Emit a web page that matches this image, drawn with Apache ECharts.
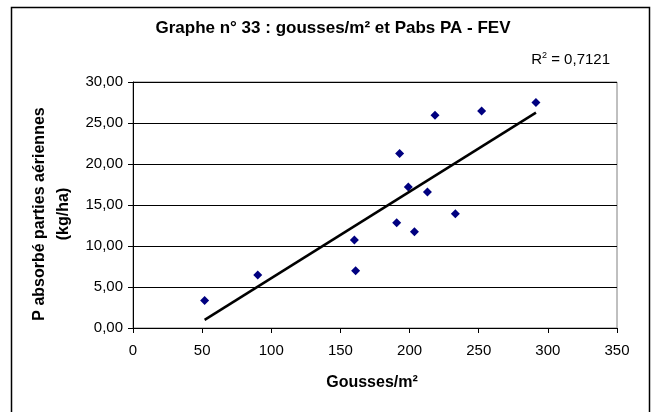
<!DOCTYPE html>
<html><head><meta charset="utf-8">
<script src="https://cdn.jsdelivr.net/npm/echarts@6/dist/echarts.min.js"></script>
<style>html,body{margin:0;padding:0;background:#fff}#c{width:659px;height:412px}</style>
</head><body><div id="c"></div>
<script>
var titleText = "Graphe n° 33 : gousses/m² et Pabs PA - FEV";
var xTitle = "Gousses/m²";
var yTitle = "P absorbé parties aériennes\n(kg/ha)";
var r2Label = "0,7121";
var gousses = [51.8, 90.2, 160.1, 161.0, 190.7, 192.8, 199.1, 203.5, 212.9, 218.4, 233.1, 252.1, 291.4];
var pabs    = [3.36, 6.45, 10.74, 6.97, 12.85, 21.29, 17.19, 11.75, 16.58, 25.95, 13.94, 26.47, 27.5];

// least-squares trend line (as in the source spreadsheet)
var n = gousses.length, sx = 0, sy = 0, sxx = 0, sxy = 0;
for (var i = 0; i < n; i++) { sx += gousses[i]; sy += pabs[i]; sxx += gousses[i]*gousses[i]; sxy += gousses[i]*pabs[i]; }
var slope = (n*sxy - sx*sy) / (n*sxx - sx*sx);
var icpt = (sy - slope*sx) / n;
var xmin = Math.min.apply(null, gousses), xmax = Math.max.apply(null, gousses);
var trend = [[xmin, icpt + slope*xmin], [xmax, icpt + slope*xmax]];
var pts = gousses.map(function(v, i){ return [v, pabs[i]]; });

var FF = '"Liberation Sans", Arial, sans-serif';
var chart = echarts.init(document.getElementById('c'), null, {renderer: 'canvas'});
chart.setOption({
  animation: false,
  backgroundColor: '#fff',
  textStyle: {fontFamily: FF},
  grid: {left: 133, right: 42, top: 82, bottom: 84, show: true, borderColor: '#808080', borderWidth: 1},
  xAxis: {
    type: 'value', min: 0, max: 350, interval: 50,
    axisLine: {show: true, onZero: false, lineStyle: {color: '#000', width: 1}},
    axisTick: {show: true, inside: false, length: 5, lineStyle: {color: '#000'}},
    axisLabel: {color: '#000', fontSize: 15, fontFamily: FF, margin: 15},
    splitLine: {show: false}
  },
  yAxis: {
    type: 'value', min: 0, max: 30, interval: 5,
    axisLine: {show: true, onZero: false, lineStyle: {color: '#000', width: 1}},
    axisTick: {show: true, inside: false, length: 5, lineStyle: {color: '#000'}},
    axisLabel: {color: '#000', fontSize: 15, fontFamily: FF, margin: 10,
      formatter: function(v){ return v.toFixed(2).replace('.', ','); }},
    splitLine: {show: true, lineStyle: {color: '#000', width: 1}}
  },
  graphic: [
    {type: 'rect', left: 9, top: 5, shape: {width: 638, height: 420}, style: {fill: 'none', stroke: '#000', lineWidth: 1.5}, silent: true},
    {type: 'text', x: 333, y: 28, style: {text: titleText, font: 'bold 17px ' + FF, fill: '#000', align: 'center', verticalAlign: 'middle'}},
    {type: 'text', x: 372, y: 383, style: {text: xTitle, font: 'bold 16px ' + FF, fill: '#000', align: 'center', verticalAlign: 'middle'}},
    {type: 'text', x: 51.5, y: 214, rotation: Math.PI/2, style: {text: yTitle, font: 'bold 16px ' + FF, fill: '#000', align: 'center', verticalAlign: 'middle', lineHeight: 24}},
    {type: 'text', x: 610, y: 60, style: {
      text: '{r|R}{s|2}{r| = ' + r2Label + '}', align: 'right', verticalAlign: 'middle',
      rich: {r: {fontSize: 15, fontFamily: FF, fill: '#000'}, s: {fontSize: 9, fontFamily: FF, fill: '#000', verticalAlign: 'top', padding: [0,0,8,0]}}
    }}
  ],
  series: [
    {type: 'scatter', data: pts, symbol: 'diamond', symbolSize: 9, itemStyle: {color: '#000080', opacity: 1}, z: 3},
    {type: 'line', data: trend, symbol: 'none', lineStyle: {color: '#000', width: 2.5}, z: 4}
  ]
});
</script></body></html>
